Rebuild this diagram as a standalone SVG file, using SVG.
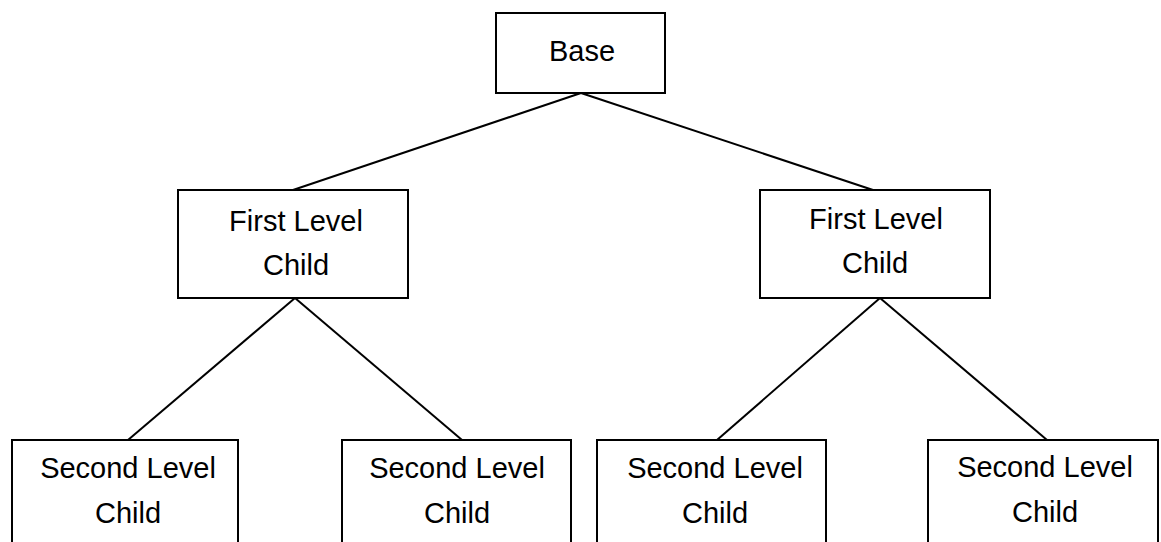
<svg xmlns="http://www.w3.org/2000/svg" width="1161" height="542" viewBox="0 0 1161 542">
<style>
.box{fill:#fff;stroke:#000;stroke-width:2}
line{stroke:#000;stroke-width:2}
text{font-family:"Liberation Sans",Arial,sans-serif;font-size:29px;fill:#000;text-anchor:middle}
</style>
<rect width="1161" height="542" fill="#fff"/>
<g id="connectors">
<line x1="581" y1="93" x2="293" y2="190"/>
<line x1="581" y1="93" x2="873" y2="190"/>
<line x1="295" y1="298" x2="128" y2="440"/>
<line x1="295" y1="298" x2="462" y2="440"/>
<line x1="880" y1="298" x2="717" y2="440"/>
<line x1="880" y1="298" x2="1047" y2="440"/>
</g>
<g id="base">
<rect class="box" x="496" y="13" width="169" height="80"/>
<text x="582" y="61">Base</text>
</g>
<g id="first-left">
<rect class="box" x="178" y="190" width="230" height="108"/>
<text x="296" y="231">First Level</text>
<text x="296" y="275">Child</text>
</g>
<g id="first-right">
<rect class="box" x="760" y="190" width="230" height="108"/>
<text x="876" y="229">First Level</text>
<text x="875" y="273">Child</text>
</g>
<g id="second-1">
<rect class="box" x="12" y="440" width="226" height="120"/>
<text x="128" y="478">Second Level</text>
<text x="128" y="523">Child</text>
</g>
<g id="second-2">
<rect class="box" x="342" y="440" width="229" height="120"/>
<text x="457" y="478">Second Level</text>
<text x="457" y="523">Child</text>
</g>
<g id="second-3">
<rect class="box" x="597" y="440" width="229" height="120"/>
<text x="715" y="478">Second Level</text>
<text x="715" y="523">Child</text>
</g>
<g id="second-4">
<rect class="box" x="928" y="440" width="230" height="120"/>
<text x="1045" y="477">Second Level</text>
<text x="1045" y="522">Child</text>
</g>
</svg>
